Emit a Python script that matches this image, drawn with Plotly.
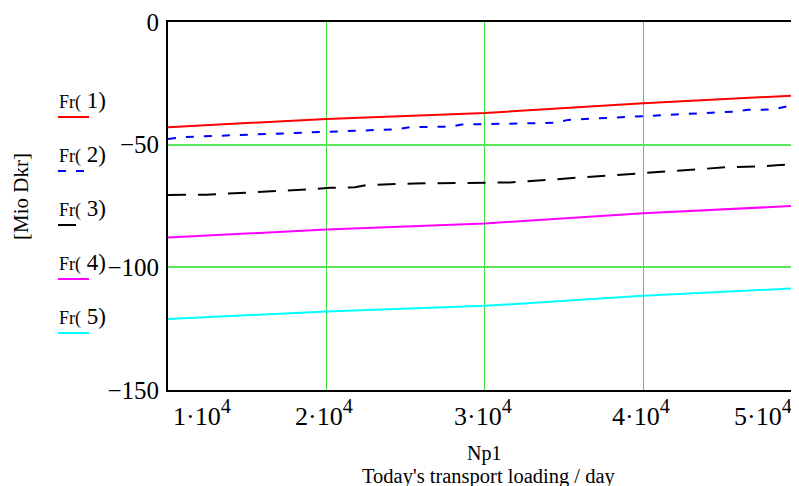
import plotly.graph_objects as go

# ---------------- data ----------------
x_knots = [10000, 20000, 30000, 40000, 50000]
fr1 = [-42.9, -39.5, -37.1, -33.1, -29.8]
fr2_x = [10000, 11000, 24500, 25300, 27800, 28550, 34450, 35270, 45800, 46620, 48140, 49270, 50000]
fr2 = [-47.7, -46.9, -43.7, -42.8, -42.7, -41.8, -41.1, -39.9, -36.5, -35.8, -35.7, -34.1, -33.9]
fr3_x = [10000, 12400, 18400, 20250, 21800, 22500, 25600, 30000, 31600, 45500, 47400, 48400, 50000]
fr3 = [-70.5, -70.4, -68.4, -67.6, -67.4, -66.5, -65.8, -65.6, -65.4, -59.1, -58.9, -58.4, -57.8]
fr4 = [-87.8, -84.6, -82.1, -78.0, -74.8]
fr5 = [-121.1, -118.0, -115.7, -111.6, -108.4]

series_labels = ["1", "2", "3", "4", "5"]
x_ticks = [10000, 20000, 30000, 40000, 50000]
x_tick_mant = ["1", "2", "3", "4", "5"]
x_tick_exp = "4"
y_ticks = [0, -50, -100, -150]
y_tick_labels = ["0", "\u221250", "\u2212100", "\u2212150"]
x_title_1 = "Np1"
x_title_2 = "Today's transport loading / day"
y_title = "[Mio Dkr]"

# ---------------- style ----------------
OFF = 8                      # default page margin of the html body
W, H = 799, 486
ML, MR, MT, MB = 168 - OFF, 0, 22 - OFF, 486 - (390 - OFF)
X0, X1 = 10000, 50340
Y0, Y1 = -150, 0
FONT = "Liberation Serif, Times New Roman, serif"
GRID = "#3cdc3c"

colors = ["#ff0000", "#0000ff", "#000000", "#ff00ff", "#00ffff"]
dashes = ["solid", "8px,10px", "18px,12px", "solid", "solid"]

pw = W - ML - MR
ph = H - MT - MB


def px2paper_x(px):
    return (px - OFF - ML) / pw


def py2paper_y(py):
    return (H - MB - (py - OFF)) / ph


xs = [x_knots, fr2_x, fr3_x, x_knots, x_knots]
ys = [fr1, fr2, fr3, fr4, fr5]

fig = go.Figure()
for i in range(5):
    fig.add_trace(go.Scatter(
        x=xs[i], y=ys[i], mode="lines",
        line=dict(color=colors[i], width=2, dash=dashes[i]),
        name="Fr(%s)" % series_labels[i], showlegend=False,
        hoverinfo="skip"))

annotations = []
shapes = []

# x tick labels (Mathcad keeps end labels inside the frame)
for i, (v, m) in enumerate(zip(x_ticks, x_tick_mant)):
    if i == 0:
        anchor, shift = "left", 3
    elif i == len(x_ticks) - 1:
        anchor, shift = "right", -8
    else:
        anchor, shift = "center", -2
    txt = "<span style='font-size:26px'>%s·10</span><sup>%s</sup>" % (m, x_tick_exp)
    annotations.append(dict(
        x=v, y=0, xref="x", yref="paper", xanchor=anchor, yanchor="top",
        xshift=shift, yshift=-3, text=txt, showarrow=False,
        font=dict(family=FONT, size=29, color="black")))

# axis titles
annotations.append(dict(
    x=px2paper_x(484), y=py2paper_y(453), xref="paper", yref="paper",
    xanchor="center", yanchor="middle", text=x_title_1, showarrow=False,
    font=dict(family=FONT, size=20, color="black")))
annotations.append(dict(
    x=px2paper_x(489), y=py2paper_y(476), xref="paper", yref="paper",
    xanchor="center", yanchor="middle", text=x_title_2, showarrow=False,
    font=dict(family=FONT, size=20.5, color="black")))
annotations.append(dict(
    x=px2paper_x(21), y=py2paper_y(197), xref="paper", yref="paper",
    xanchor="center", yanchor="middle", text=y_title, showarrow=False,
    textangle=-90, font=dict(family=FONT, size=21, color="black")))

# legend (Mathcad style: label above a sample line)
line_len = [31, 26, 19, 31, 31]
for i in range(5):
    ty = 100 + 54 * i
    ly = 117 + 54 * i
    annotations.append(dict(
        x=px2paper_x(57), y=py2paper_y(ty), xref="paper", yref="paper",
        xanchor="left", yanchor="middle", showarrow=False,
        text="Fr(<span style='font-size:23px'> %s)</span>" % series_labels[i],
        font=dict(family=FONT, size=18, color="black")))
    shapes.append(dict(
        type="line", xref="paper", yref="paper",
        x0=px2paper_x(58), x1=px2paper_x(58 + line_len[i]),
        y0=py2paper_y(ly), y1=py2paper_y(ly),
        line=dict(color=colors[i], width=2, dash=dashes[i])))

fig.update_layout(
    width=W, height=H,
    margin=dict(l=ML, r=MR, t=MT, b=MB, pad=0),
    paper_bgcolor="white", plot_bgcolor="white",
    showlegend=False,
    annotations=annotations, shapes=shapes,
    xaxis=dict(
        range=[X0, X1], tickvals=x_ticks, showticklabels=False,
        showgrid=True, gridcolor=GRID, gridwidth=1, zeroline=False,
        showline=True, linecolor="black", linewidth=2, mirror=True,
        ticks=""),
    yaxis=dict(
        range=[Y0, Y1], tickvals=y_ticks, ticktext=y_tick_labels,
        showgrid=True, gridcolor="#5ae65a", gridwidth=1.5, zeroline=False,
        showline=True, linecolor="black", linewidth=2, mirror=False,
        ticks="outside", ticklen=2, tickcolor="rgba(0,0,0,0)",
        tickfont=dict(family=FONT, size=25, color="black")),
)

fig.write_html("out.html")
